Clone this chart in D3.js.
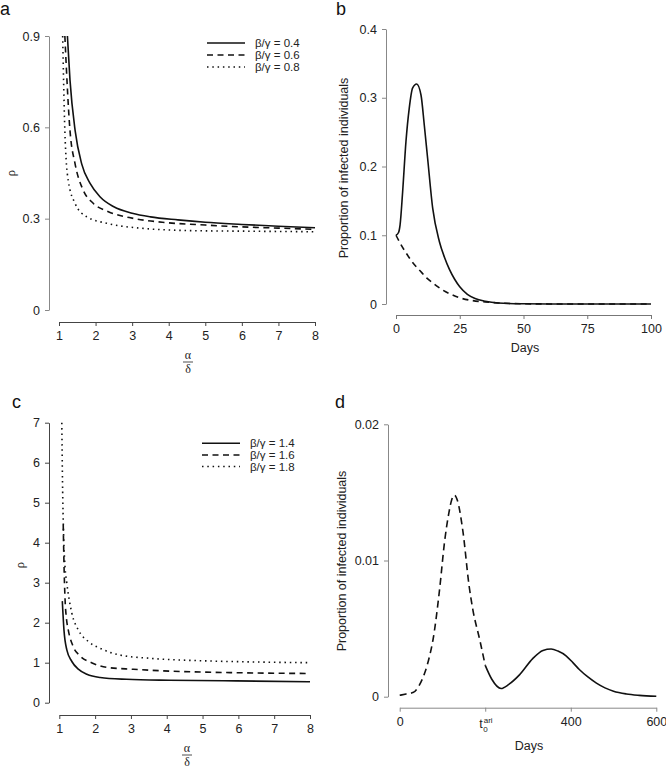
<!DOCTYPE html>
<html><head><meta charset="utf-8">
<script src="https://cdn.jsdelivr.net/npm/d3@7"></script>
<style>
body{margin:0;background:#fff;}
svg{display:block;font-family:"Liberation Sans",Arial,sans-serif;}
</style></head>
<body>
<svg id="chart" width="666" height="771"></svg>
<script>
// ---------- Panel a : rho vs alpha/delta (beta/gamma = 0.4, 0.6, 0.8)
const aRatio04 = [[1.23,0.9],[1.3,0.756],[1.44,0.59],[1.62,0.48],[1.85,0.416],[2.12,0.372],[2.5,0.339],[3,0.318],[3.5,0.306],[4.25,0.296],[5,0.288],[6,0.281],[7,0.275],[8,0.27]];
const aRatio06 = [[1.16,0.9],[1.3,0.59],[1.44,0.48],[1.66,0.394],[1.94,0.35],[2.35,0.323],[3.03,0.301],[3.94,0.287],[5,0.279],[6,0.273],[7,0.269],[8,0.265]];
const aRatio08 = [[1.1,0.9],[1.16,0.59],[1.25,0.427],[1.44,0.35],[1.76,0.306],[2.3,0.285],[3.3,0.268],[4.2,0.262],[5,0.26],[6,0.259],[7,0.258],[8,0.257]];
const aXTicks = [1,2,3,4,5,6,7,8];
const aYTicks = [0,0.3,0.6,0.9];
const aLegend = ["β/γ = 0.4","β/γ = 0.6","β/γ = 0.8"];

// ---------- Panel b : proportion infected vs days
const bDays = [0,1,1.6,2.6,3.9,5.2,6.5,8.1,9.8,11.1,12.4,14.4,17,19,21,23,25,28,31,35,40,50,60,80,100];
const bSolid = [0.1,0.104,0.115,0.163,0.236,0.285,0.314,0.32,0.304,0.26,0.212,0.139,0.091,0.068,0.05,0.036,0.025,0.014,0.008,0.004,0.0015,0.0003,0,0,0];
const bDaysDash = [0,2,4,6,8,10,12,15,18,21,25,30,35,40,50,60,80,100];
const bDashed = [0.1,0.086,0.074,0.063,0.054,0.046,0.038,0.029,0.021,0.015,0.009,0.005,0.003,0.0015,0.0004,0.0001,0,0];
const bXTicks = [0,25,50,75,100];
const bYTicks = [0,0.1,0.2,0.3,0.4];

// ---------- Panel c : rho vs alpha/delta (beta/gamma = 1.4, 1.6, 1.8)
const cRatio14 = [[1.084,2.54],[1.13,1.82],[1.21,1.32],[1.35,1.03],[1.53,0.84],[1.77,0.71],[2.14,0.63],[2.88,0.585],[4.07,0.56],[5.93,0.545],[8,0.525]];
const cRatio16 = [[1.11,4.45],[1.13,3.5],[1.16,2.6],[1.2,2.1],[1.25,1.82],[1.39,1.4],[1.58,1.17],[1.9,1.0],[2.32,0.885],[3.07,0.835],[4.07,0.79],[5.93,0.75],[8,0.73]];
const cRatio18 = [[1.07,7.0],[1.09,5.5],[1.12,4.2],[1.16,3.4],[1.21,2.99],[1.35,2.24],[1.53,1.82],[1.81,1.53],[2.14,1.36],[2.7,1.19],[3.53,1.11],[4.93,1.05],[6.33,1.02],[8,1.0]];
const cXTicks = [1,2,3,4,5,6,7,8];
const cYTicks = [0,1,2,3,4,5,6,7];
const cLegend = ["β/γ = 1.4","β/γ = 1.6","β/γ = 1.8"];

// ---------- Panel d : proportion infected vs days (two phases)
const dDaysDash = [0,15,31,45,58,70,78,93,105,115,122,128,135,148,162,171,187,200];
const dDashed = [0.0001,0.0002,0.0003,0.0008,0.0017,0.003,0.0042,0.0078,0.0114,0.0135,0.0145,0.0148,0.0144,0.0121,0.0082,0.0064,0.0042,0.0023];
const dDaysSolid = [200,215,237,255,280,311,335,354,370,389,405,420,440,460,480,500,530,560,600];
const dSolid = [0.0023,0.0013,0.0006,0.0009,0.0016,0.0028,0.0034,0.0035,0.00335,0.003,0.0025,0.002,0.00145,0.001,0.00065,0.0004,0.0002,0.0001,0.00003];
const dXTicks = [0,200,400,600];
const dYTicks = [0,0.01,0.02];

const svg = d3.select("#chart");
const FS = 12.5;
const LW = 1.6;
const styles = {
  solid: null,
  dashed: "6,4.5",
  dotted: "1.5,3.8"
};

function yAxis(g, scale, ticks, fmt, x, color) {
  const ax = g.append("g").attr("transform", `translate(${x},0)`)
    .call(d3.axisLeft(scale).tickValues(ticks).tickFormat(fmt).tickSize(4).tickSizeOuter(0).tickPadding(5));
  ax.select(".domain").attr("stroke", color);
  ax.selectAll(".tick line").attr("stroke", color);
  ax.selectAll("text").attr("font-size", FS).attr("fill", "#222").attr("font-family", "Liberation Sans, Arial, sans-serif");
  return ax;
}
function xAxis(g, scale, ticks, fmt, y, color) {
  const ax = g.append("g").attr("transform", `translate(0,${y})`)
    .call(d3.axisBottom(scale).tickValues(ticks).tickFormat(fmt).tickSize(4).tickSizeOuter(0).tickPadding(5));
  ax.select(".domain").attr("stroke", color);
  ax.selectAll(".tick line").attr("stroke", color);
  ax.selectAll("text").attr("font-size", FS).attr("fill", "#222").attr("font-family", "Liberation Sans, Arial, sans-serif");
  return ax;
}
function drawLine(g, data, x, y, style, curve) {
  const line = d3.line().x(d => x(d[0])).y(d => y(d[1])).curve(curve || d3.curveMonotoneX);
  g.append("path").datum(data).attr("d", line)
    .attr("fill", "none").attr("stroke", "#111").attr("stroke-width", LW)
    .attr("stroke-dasharray", style).attr("stroke-linejoin", "round");
}
function legend(g, items, x0, x1, ys, tx, dashes) {
  items.forEach((t, i) => {
    g.append("line").attr("x1", x0).attr("x2", x1).attr("y1", ys[i]).attr("y2", ys[i])
      .attr("stroke", "#111").attr("stroke-width", LW).attr("stroke-dasharray", dashes[i]);
    g.append("text").attr("x", tx).attr("y", ys[i]).attr("dy", "0.35em")
      .attr("font-size", 11.5).attr("fill", "#222").text(t);
  });
}
function frac(g, cx, cyTop, cyBot) {
  g.append("text").attr("x", cx).attr("y", cyTop).attr("dy", "0.35em").attr("text-anchor", "middle")
    .attr("font-family", "Liberation Serif, serif").attr("font-size", 12).attr("fill", "#222").text("α");
  g.append("line").attr("x1", cx - 5).attr("x2", cx + 5).attr("y1", (cyTop + cyBot) / 2 + 0.5).attr("y2", (cyTop + cyBot) / 2 + 0.5)
    .attr("stroke", "#222").attr("stroke-width", 0.8);
  g.append("text").attr("x", cx).attr("y", cyBot).attr("dy", "0.35em").attr("text-anchor", "middle")
    .attr("font-family", "Liberation Serif, serif").attr("font-size", 12).attr("fill", "#222").text("δ");
}
function panelLetter(t, x, y) {
  svg.append("text").attr("x", x).attr("y", y).attr("font-size", 18).attr("fill", "#111").text(t);
}
function rotLabel(t, x, y, font) {
  svg.append("text").attr("transform", `translate(${x},${y}) rotate(-90)`).attr("text-anchor", "middle")
    .attr("dy", "0.35em").attr("font-size", FS).attr("fill", "#222")
    .attr("font-family", font || "Liberation Sans, Arial, sans-serif").text(t);
}
const fmtPlain = d => String(d);

// ===== Panel a
{
  const g = svg.append("g");
  const x = d3.scaleLinear().domain([1, 8]).range([59, 315]);
  const y = d3.scaleLinear().domain([0, 0.9]).range([310, 36]);
  yAxis(g, y, aYTicks, d => d === 0 ? "0" : d.toFixed(1), 49, "#888");
  xAxis(g, x, aXTicks, fmtPlain, 322, "#444");
  drawLine(g, aRatio04, x, y, styles.solid);
  drawLine(g, aRatio06, x, y, styles.dashed);
  drawLine(g, aRatio08, x, y, styles.dotted);
  legend(g, aLegend, 207, 245, [43, 55, 67], 255, [styles.solid, styles.dashed, styles.dotted]);
  frac(g, 188, 354.5, 368.5);
  rotLabel("ρ", 11, 173, "Liberation Serif, serif");
  panelLetter("a", 0, 15);
}
// ===== Panel b
{
  const g = svg.append("g");
  const x = d3.scaleLinear().domain([0, 100]).range([396, 651]);
  const y = d3.scaleLinear().domain([0, 0.4]).range([304, 29]);
  yAxis(g, y, bYTicks, d => d === 0 ? "0" : d.toFixed(1), 386, "#888");
  xAxis(g, x, bXTicks, fmtPlain, 315, "#777");
  drawLine(g, bDays.map((d, i) => [d, bSolid[i]]), x, y, styles.solid);
  drawLine(g, bDaysDash.map((d, i) => [d, bDashed[i]]), x, y, styles.dashed);
  g.append("text").attr("x", 525).attr("y", 348).attr("dy", "0.35em").attr("text-anchor", "middle")
    .attr("font-size", FS).attr("fill", "#222").text("Days");
  rotLabel("Proportion of infected individuals", 344, 168);
  panelLetter("b", 336, 15);
}
// ===== Panel c
{
  const g = svg.append("g");
  const x = d3.scaleLinear().domain([1, 8]).range([59.3, 310]);
  const y = d3.scaleLinear().domain([0, 7]).range([702.7, 422.7]);
  yAxis(g, y, cYTicks, fmtPlain, 49, "#444");
  xAxis(g, x, cXTicks, fmtPlain, 715, "#444");
  drawLine(g, cRatio14, x, y, styles.solid);
  drawLine(g, cRatio16, x, y, styles.dashed);
  drawLine(g, cRatio18, x, y, styles.dotted);
  legend(g, cLegend, 202, 240, [443.3, 455, 466.5], 250, [styles.solid, styles.dashed, styles.dotted]);
  frac(g, 187, 747.5, 761.5);
  rotLabel("ρ", 20, 565, "Liberation Serif, serif");
  panelLetter("c", 12, 408);
}
// ===== Panel d
{
  const g = svg.append("g");
  const x = d3.scaleLinear().domain([0, 600]).range([399.7, 656.3]);
  const y = d3.scaleLinear().domain([0, 0.02]).range([696.7, 424.3]);
  yAxis(g, y, dYTicks, d => d === 0 ? "0" : d.toFixed(2), 388, "#888");
  const ax = xAxis(g, x, dXTicks, d => String(d), 707.7, "#888");
  // replace the 200 tick label with t0^ari
  ax.selectAll(".tick").filter(d => d === 200).select("text").remove();
  const lx = x(200) - 6;
  g.append("text").attr("x", lx).attr("y", 727.5).attr("font-size", FS).attr("fill", "#222").text("t");
  g.append("text").attr("x", lx + 4).attr("y", 732).attr("font-size", 8).attr("fill", "#222").text("0");
  g.append("text").attr("x", lx + 4.5).attr("y", 722.5).attr("font-size", 8).attr("fill", "#222").text("ari");
  drawLine(g, dDaysDash.map((d, i) => [d, dDashed[i]]), x, y, "7,4.5");
  drawLine(g, dDaysSolid.map((d, i) => [d, dSolid[i]]), x, y, styles.solid);
  g.append("text").attr("x", 529).attr("y", 746).attr("dy", "0.35em").attr("text-anchor", "middle")
    .attr("font-size", FS).attr("fill", "#222").text("Days");
  rotLabel("Proportion of infected individuals", 342, 561);
  panelLetter("d", 335, 408);
}
</script>
</body></html>
